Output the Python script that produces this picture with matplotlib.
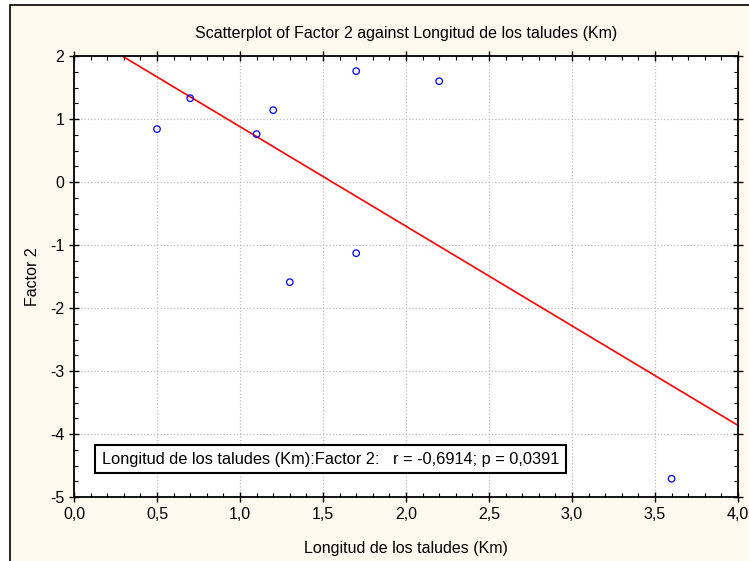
import numpy as np
import matplotlib.pyplot as plt
from matplotlib.patches import Rectangle
from matplotlib.ticker import MultipleLocator, FuncFormatter

# Longitud de los taludes (Km) vs Factor 2
longitud = [0.5, 0.7, 1.1, 1.2, 1.3, 1.7, 1.7, 2.2, 3.6]
factor2 = [0.84, 1.33, 0.76, 1.14, -1.59, 1.76, -1.13, 1.60, -4.71]
x_ticks = [0.0, 0.5, 1.0, 1.5, 2.0, 2.5, 3.0, 3.5, 4.0]
y_ticks = [-5, -4, -3, -2, -1, 0, 1, 2]

plt.rcParams['font.family'] = ['Liberation Sans', 'DejaVu Sans']

W, H = 749, 561
fig = plt.figure(figsize=(W / 100, H / 100), dpi=100, facecolor='white')
bg = '#fdf9ee'
# cream panel with a frame on left and top only (the rest is cut off)
fig.add_artist(Rectangle((10 / W, -1), 2, 2 - 5 / H, transform=fig.transFigure,
                         facecolor=bg, edgecolor='black', linewidth=1.2, zorder=0))

ax = fig.add_axes([74 / W, 1 - 497 / H, (738 - 74) / W, (497 - 56) / H])
ax.set_facecolor('white')

ax.scatter(longitud, factor2, s=22, facecolors='none', edgecolors='blue',
           linewidths=0.9, zorder=3)

slope, intercept = np.polyfit(longitud, factor2, 1)
xs = np.array([0.0, 4.0])
ax.plot(xs, slope * xs + intercept, color='red', linewidth=1.2, zorder=2)

ax.set_xlim(0, 4)
ax.set_ylim(-5, 2)
ax.set_xticks(x_ticks)
ax.set_yticks(y_ticks)
ax.xaxis.set_minor_locator(MultipleLocator(0.1))
ax.yaxis.set_minor_locator(MultipleLocator(0.25))
ax.xaxis.set_major_formatter(FuncFormatter(lambda v, p: f"{v:.1f}".replace('.', ',')))
ax.yaxis.set_major_formatter(FuncFormatter(lambda v, p: f"{v:.0f}"))
ax.tick_params(which='major', direction='inout', length=7, width=1, labelsize=11.5)
ax.tick_params(which='minor', direction='in', length=3, width=0.8)
ax.tick_params(top=True, right=True, which='both', labeltop=False, labelright=False)
ax.grid(True, which='major', color='#bbbbbb', linestyle=':', linewidth=0.9)
for sp in ax.spines.values():
    sp.set_linewidth(1.3)

ax.set_title("Scatterplot of Factor 2 against Longitud de los taludes (Km)",
             fontsize=11.5, pad=13)
ax.set_xlabel("Longitud de los taludes (Km)", fontsize=11.5, labelpad=14)
ax.set_ylabel("Factor 2", fontsize=11.5, labelpad=7)

ax.text(0.042, 0.086,
        "Longitud de los taludes (Km):Factor 2:   r = -0,6914; p = 0,0391",
        transform=ax.transAxes, fontsize=11.8, va='center', ha='left', zorder=5,
        bbox=dict(boxstyle='square,pad=0.4', facecolor='white', edgecolor='black',
                  linewidth=1.5))

fig.savefig('out.png', dpi=100, facecolor=fig.get_facecolor())
